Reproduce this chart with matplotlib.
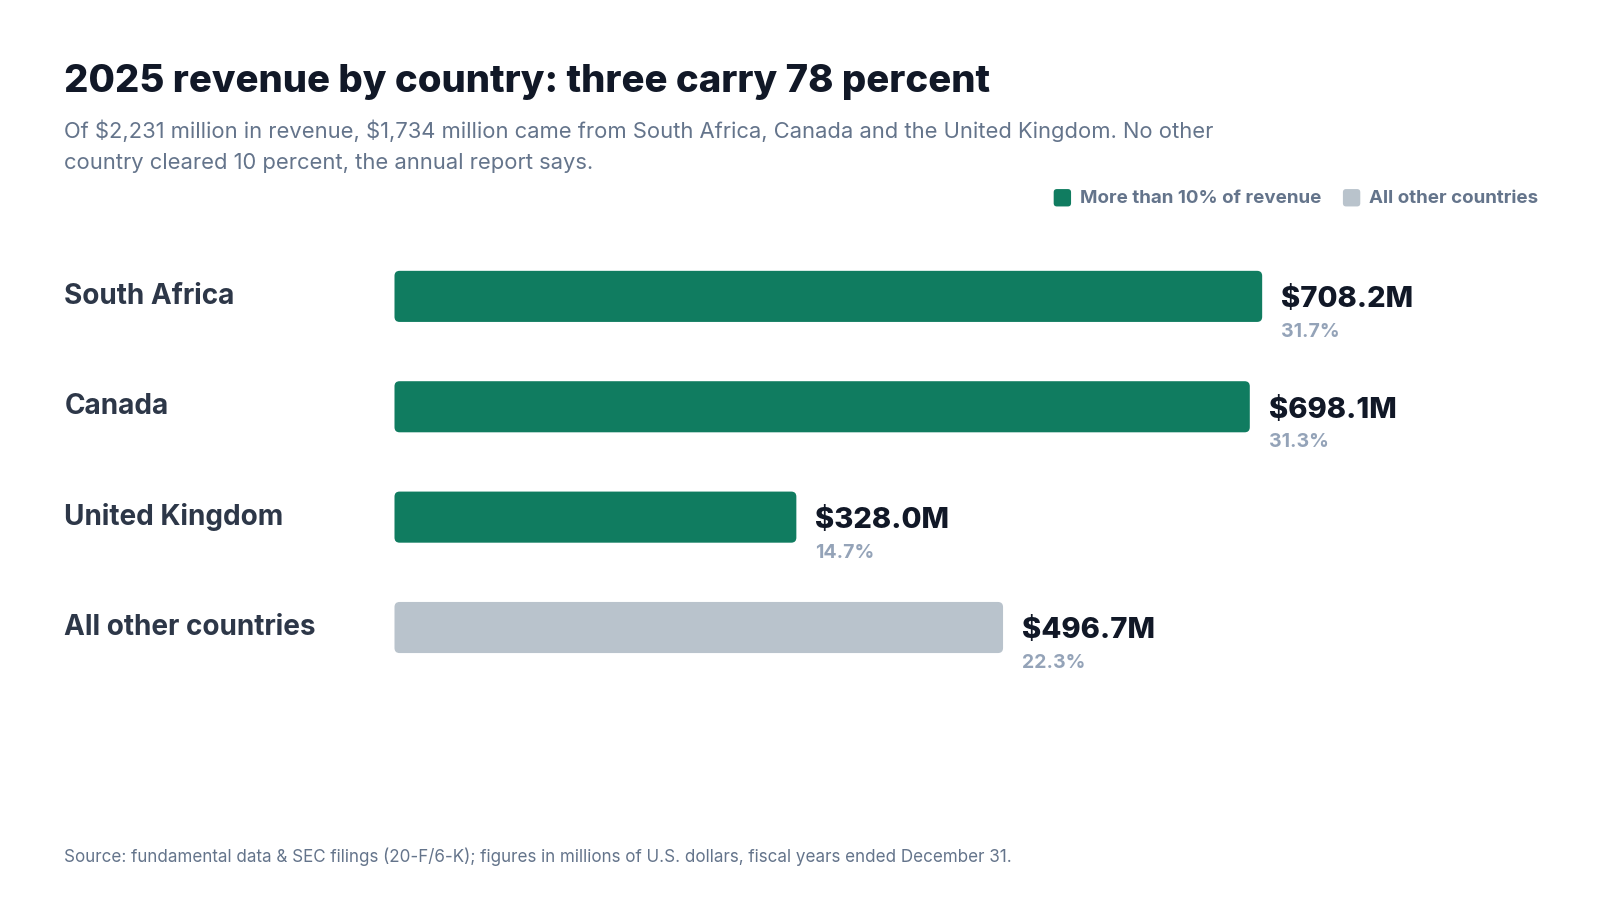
import numpy as np
import matplotlib.pyplot as plt
from matplotlib.patches import FancyBboxPatch

plt.rcParams['font.family'] = ['Inter', 'DejaVu Sans']
plt.rcParams['text.parse_math'] = False

# data
countries = ['South Africa', 'Canada', 'United Kingdom', 'All other countries']
revenue = [708.2, 698.1, 328.0, 496.7]
share = [31.7, 31.3, 14.7, 22.3]
is_major = [True, True, True, False]

GREEN = '#107c60'
GREY = '#b9c3cc'
DARK = '#111827'
LABEL = '#2d3748'
MUTED = '#64748b'
LIGHT = '#94a3b8'

W, H = 1600, 900
K = 1.022  # layout measured on a slightly reduced copy
fig = plt.figure(figsize=(16, 9), dpi=100)
fig.patch.set_facecolor('white')


def fx(px):
    return px * K / W


def fy(py):
    return 1 - py * K / H


# axes placed in pixels: bars start at x=386
px_per_m = 849 / 708.2
ax_left, ax_right = 386, 1530
ax_top, ax_bottom = 220, 700
row = 108
ax = fig.add_axes([fx(ax_left), fy(ax_bottom), fx(ax_right) - fx(ax_left),
                   fy(ax_top) - fy(ax_bottom)])
ax.set_xlim(0, (ax_right - ax_left) / px_per_m)
ax.set_ylim((ax_bottom - 290) / row, (ax_top - 290) / row)
ax.axis('off')

bar_h = 50 / row
rad_x = 5 / px_per_m
rad_y = 5 / row
for i, (v, major) in enumerate(zip(revenue, is_major)):
    box = FancyBboxPatch((0, i - bar_h / 2), v, bar_h,
                         boxstyle='round,pad=0,rounding_size=%f' % rad_x,
                         mutation_aspect=rad_y / rad_x,
                         facecolor=GREEN if major else GREY,
                         edgecolor='none')
    ax.add_patch(box)
    ax.annotate('$%.1fM' % v, xy=(v, i), xytext=(13.5, -2.5),
                textcoords='offset points', ha='left', va='center',
                fontsize=21, fontweight='heavy', color=DARK)
    ax.annotate('%.1f%%' % share[i], xy=(v, i), xytext=(13.5, -25.5),
                textcoords='offset points', ha='left', va='center',
                fontsize=14, fontweight='bold', color=LIGHT)
    fig.text(fx(63), fy(290 + i * row), countries[i], ha='left',
             va='center', fontsize=20.1, fontweight='bold', color=LABEL)

# title block
fig.text(fx(63), fy(80), '2025 revenue by country: three carry 78 percent',
         ha='left', va='center', fontsize=27.6, fontweight='heavy', color=DARK)
fig.text(fx(63), fy(128),
         'Of $2,231 million in revenue, $1,734 million came from South Africa, '
         'Canada and the United Kingdom. No other',
         ha='left', va='center', fontsize=15.8, color=MUTED)
fig.text(fx(63), fy(159.5), 'country cleared 10 percent, the annual report says.',
         ha='left', va='center', fontsize=15.8, color=MUTED)

# legend
legend_items = [('More than 10% of revenue', GREEN, 1031),
                ('All other countries', GREY, 1314)]
for text, col, x0 in legend_items:
    sq = FancyBboxPatch((fx(x0), fy(202)), fx(17), 17 * K / H,
                        boxstyle='round,pad=0,rounding_size=0.002',
                        mutation_aspect=W / H,
                        transform=fig.transFigure, facecolor=col,
                        edgecolor='none')
    fig.patches.append(sq)
    fig.text(fx(x0 + 26), fy(194), text, ha='left', va='center',
             fontsize=13.5, fontweight='bold', color=MUTED)

# footnote
fig.text(fx(63), fy(838),
         'Source: fundamental data & SEC filings (20-F/6-K); figures in millions '
         'of U.S. dollars, fiscal years ended December 31.',
         ha='left', va='center', fontsize=12.25, color=MUTED)

fig.savefig('out.png', dpi=100, facecolor='white')
